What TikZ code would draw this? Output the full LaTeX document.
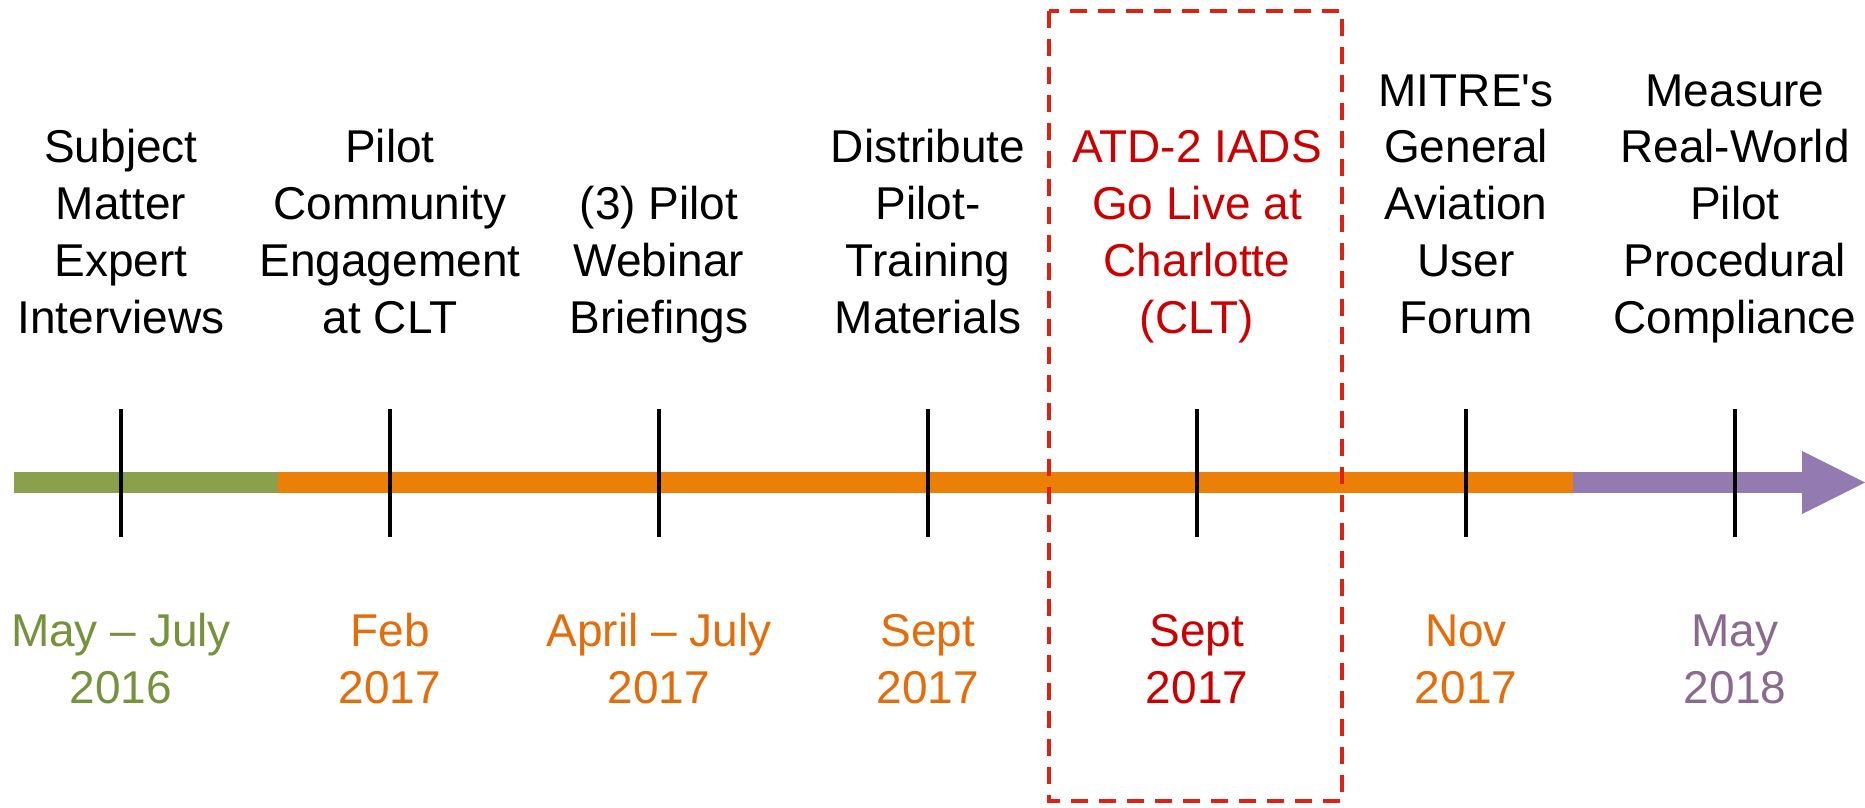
\documentclass[tikz,border=0pt]{standalone}
\usepackage{fontspec}
\setmainfont{Liberation Sans}
\begin{document}
\definecolor{barGreen}{HTML}{8AA04B}
\definecolor{barOrange}{HTML}{EC7F05}
\definecolor{barPurple}{HTML}{937AB0}
\definecolor{txtGreen}{HTML}{76923C}
\definecolor{txtOrange}{HTML}{E46C0A}
\definecolor{txtPurple}{HTML}{8A6A8E}
\definecolor{txtRed}{HTML}{CC0000}
\definecolor{boxRed}{HTML}{DD2211}
\begin{tikzpicture}[x=1pt,y=-1pt,
  every node/.style={inner sep=0pt,outer sep=0pt},
  event/.style={align=center,anchor=base,font=\fontsize{46}{56.7}\selectfont},
  when/.style={align=center,anchor=base,font=\fontsize{46}{57}\selectfont},
  tick/.style={draw=black,line width=3.5pt},
  seg/.style={line width=21pt}]
\useasboundingbox (0,0) rectangle (1865,807);

% timeline band
\coordinate (s0) at (14,482.5);
\coordinate (s1) at (278,482.5);
\coordinate (s2) at (1573,482.5);
\coordinate (s3) at (1803,482.5);
\coordinate (tip) at (1865,482.5);
\draw[seg,barGreen] (s0) -- (s1);
\draw[seg,barOrange] (s1) -- (s2);
\draw[seg,barPurple] (s2) -- (s3);
\fill[barPurple] (1802,451) -- (tip) -- (1802,514) -- cycle;

% ticks
\foreach \i/\x in {1/121,2/390,3/659,4/928,5/1197,6/1466,7/1735}{
  \coordinate (t\i a) at (\x,409);
  \coordinate (t\i b) at (\x,537);
  \draw[tick] (t\i a) -- (t\i b);
}

% highlight frame
\draw[boxRed,line width=3.3pt,dash pattern=on 17pt off 11pt] (1049,11) rectangle (1342,801);

% events
\node[event] (e1) at (121,333) {Subject\\Matter\\Expert\\Interviews};
\node[event] (e2) at (390,333) {Pilot\\Community\\Engagement\\at CLT};
\node[event] (e3) at (659,333) {(3) Pilot\\Webinar\\Briefings};
\node[event] (e4) at (928,333) {Distribute\\Pilot-\\Training\\Materials};
\node[event,text=txtRed] (e5) at (1197,333) {ATD-2 IADS\\Go Live at\\Charlotte\\(CLT)};
\node[event] (e6) at (1466,333) {MITRE\textquotesingle s\\General\\Aviation\\User\\Forum};
\node[event] (e7) at (1735,333) {Measure\\Real-World\\Pilot\\Procedural\\Compliance};

% dates
\node[when,text=txtGreen] (d1) at (121,703) {May -- July\\2016};
\node[when,text=txtOrange] (d2) at (390,703) {Feb\\2017};
\node[when,text=txtOrange] (d3) at (659,703) {April -- July\\2017};
\node[when,text=txtOrange] (d4) at (928,703) {Sept\\2017};
\node[when,text=txtRed] (d5) at (1197,703) {Sept\\2017};
\node[when,text=txtOrange] (d6) at (1466,703) {Nov\\2017};
\node[when,text=txtPurple] (d7) at (1735,703) {May\\2018};
\end{tikzpicture}
\end{document}
